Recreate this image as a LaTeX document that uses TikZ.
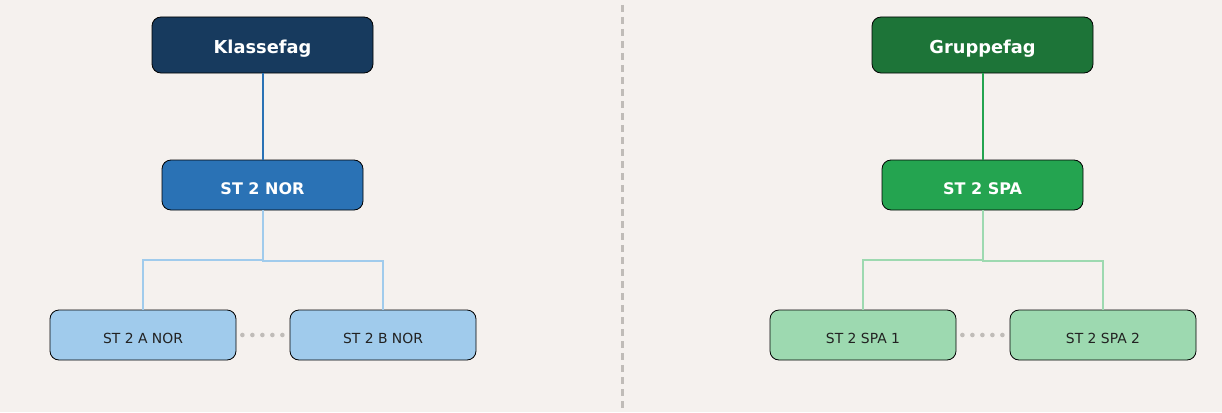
\documentclass[tikz,border=0pt]{standalone}
\usepackage{fontspec}
\setmainfont{DejaVu Sans}
\usetikzlibrary{calc}
\definecolor{bg}{HTML}{F5F1EE}
\definecolor{navy}{HTML}{173A5E}
\definecolor{midblue}{HTML}{2A72B5}
\definecolor{lightblue}{HTML}{A0CBEC}
\definecolor{darkgreen}{HTML}{1D7438}
\definecolor{midgreen}{HTML}{24A450}
\definecolor{lightgreen}{HTML}{9DD9B0}
\definecolor{divgray}{HTML}{C0BCB8}
\definecolor{txtdark}{HTML}{222222}
\tikzset{
  box/.style={draw=black, line width=0.8pt, rounded corners=9pt, inner sep=0pt, align=center, text depth=0pt},
  topbox/.style={box, minimum width=221pt, minimum height=56pt, text=white, text height=16.5pt, font=\fontsize{17.8}{20}\selectfont\bfseries},
  midbox/.style={box, minimum width=201pt, minimum height=50pt, text=white, text height=18pt, font=\fontsize{16}{18}\selectfont\bfseries},
  leafbox/.style={box, minimum width=186pt, minimum height=50pt, text=txtdark, text height=16.2pt, font=\fontsize{13.9}{16}\selectfont},
  conn/.style={line width=2pt},
  dotc/.style={fill=divgray, draw=none},
}
\begin{document}
\begin{tikzpicture}[x=1pt,y=-1pt]
\fill[bg] (0,0) rectangle (1222,412);
\useasboundingbox (0,0) rectangle (1222,412);
% divider
\draw[divgray, line width=3pt, dash pattern=on 7pt off 5pt] (622,5) -- (622,410);
% left tree
\node[topbox, fill=navy] (kl) at (262.5,45) {Klassefag};
\node[midbox, fill=midblue] (nor) at (262.5,185) {ST 2 NOR};
\node[leafbox, fill=lightblue] (anor) at (143,335) {ST 2 A NOR};
\node[leafbox, fill=lightblue] (bnor) at (383,335) {ST 2 B NOR};
% right tree
\node[topbox, fill=darkgreen] (gr) at (982.5,45) {Gruppefag};
\node[midbox, fill=midgreen] (spa) at (982.5,185) {ST 2 SPA};
\node[leafbox, fill=lightgreen] (spa1) at (863,335) {ST 2 SPA 1};
\node[leafbox, fill=lightgreen] (spa2) at (1103,335) {ST 2 SPA 2};
% connectors
\draw[conn, midblue] (kl.south) -- (nor.north);
\draw[conn, lightblue] (nor.south) -- ++(0,50) -| (anor.north);
\draw[conn, lightblue] (nor.south) -- ++(0,51) -| (bnor.north);
\draw[conn, midgreen] (gr.south) -- (spa.north);
\draw[conn, lightgreen] (spa.south) -- ++(0,50) -| (spa1.north);
\draw[conn, lightgreen] (spa.south) -- ++(0,51) -| (spa2.north);
% dots
\foreach \i in {0,...,4} {
  \fill[dotc] ($(anor.east)+(6+\i*10,0)$) circle (2.3pt);
  \fill[dotc] ($(spa1.east)+(6+\i*10,0)$) circle (2.3pt);
}
\end{tikzpicture}
\end{document}
